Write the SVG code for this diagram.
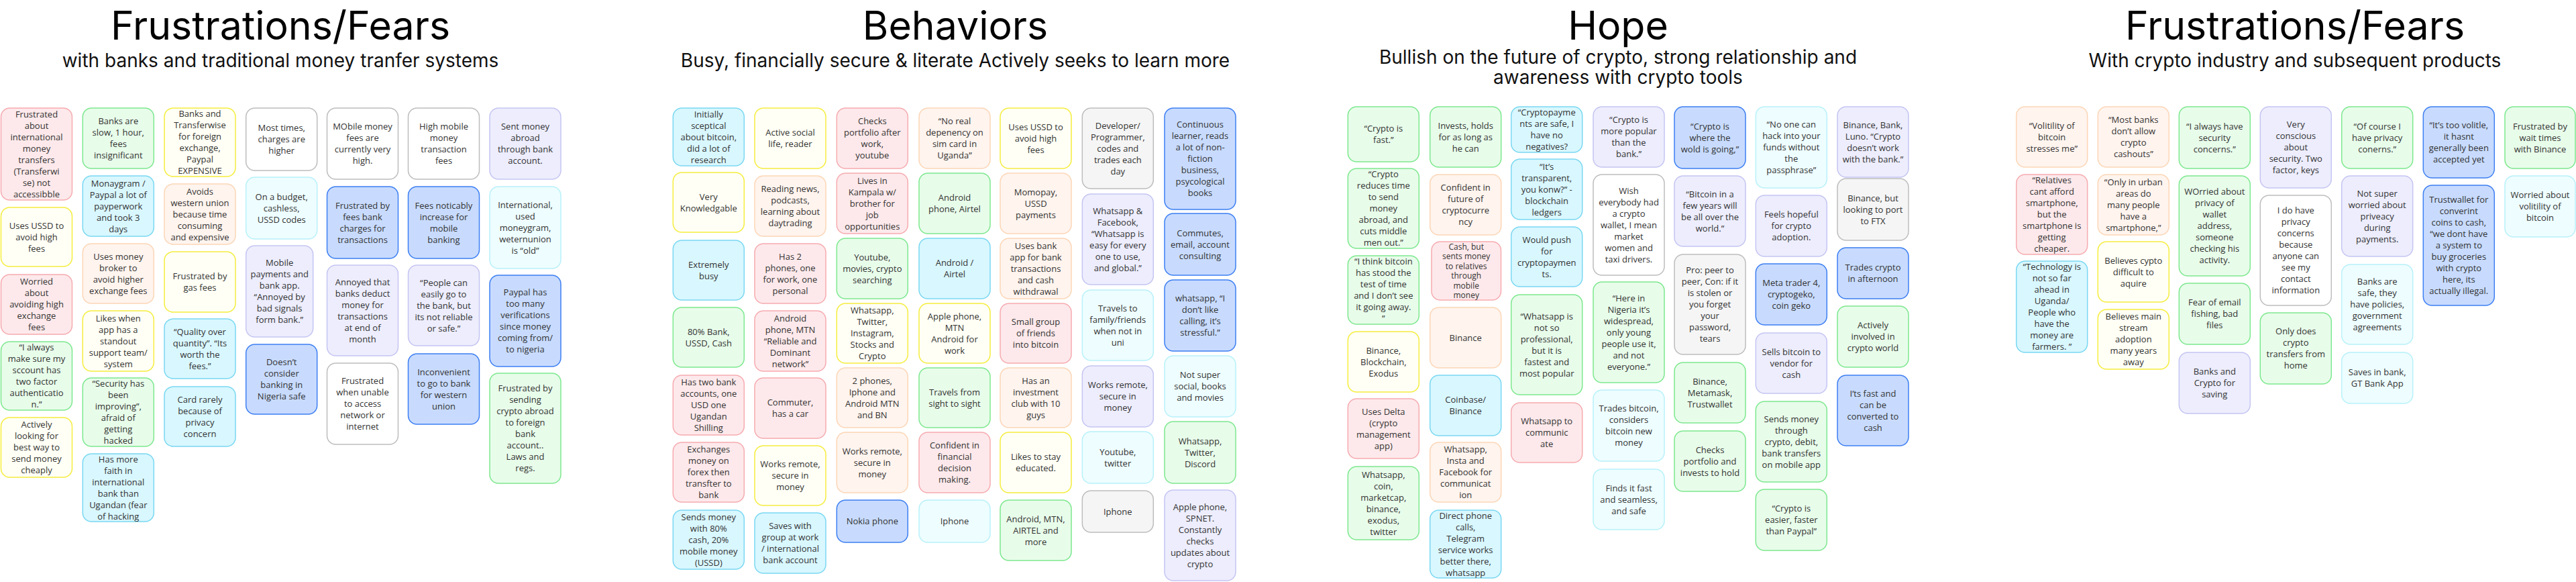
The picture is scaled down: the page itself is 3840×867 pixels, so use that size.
<svg xmlns="http://www.w3.org/2000/svg" width="3840" height="867" viewBox="0 0 3840 867">
<style>
.bg{fill:#fff}
rect{stroke-width:1.5}
.pk{fill:#fde9eb;stroke:#f6abb0}
.gr{fill:#e8fcea;stroke:#7de88f}
.ye{fill:#fffff5;stroke:#f5ed3f}
.cy{fill:#d9f7ff;stroke:#7ad8f2}
.lc{fill:#eefdff;stroke:#b8f1fa}
.pe{fill:#fff4ee;stroke:#fcd6b6}
.la{fill:#ededfd;stroke:#c5c5f3}
.wh{fill:#ffffff;stroke:#bdbdbd}
.gy{fill:#f5f5f5;stroke:#bdbdbd}
.bl{fill:#c8dbfe;stroke:#3d7ff2}
.t{font-family:"Open Sans","Noto Sans","DejaVu Sans",sans-serif;font-size:13px;fill:#333;text-anchor:middle}
.s{font-size:12px}
.h1{font-family:Inter,"Liberation Sans",sans-serif;font-size:59px;fill:#000;text-anchor:middle}
.h2{font-family:Inter,"Liberation Sans",sans-serif;font-size:28px;fill:#111;text-anchor:middle}
</style>
<rect class="bg" x="0" y="0" width="3840" height="867" style="stroke:none"/>
<g id="titles">
<text class="h1" x="418" y="59">Frustrations/Fears</text>
<text class="h2" x="418" y="100">with banks and traditional money tranfer systems</text>
<text class="h1" x="1424" y="59">Behaviors</text>
<text class="h2" x="1424" y="100">Busy, financially secure &amp; literate Actively seeks to learn more</text>
<text class="h1" x="2412" y="59">Hope</text>
<text class="h2" x="2412" y="95">Bullish on the future of crypto, strong relationship and</text>
<text class="h2" x="2412" y="125">awareness with crypto tools</text>
<text class="h1" x="3421" y="59">Frustrations/Fears</text>
<text class="h2" x="3421" y="100">With crypto industry and subsequent products</text>
</g>
<g id="connectors"></g>

<g id="section-banks">
<g id="s1c1n1" transform="translate(1.5 161)"><rect class="pk" rx="13" width="106" height="137"/><text class="t" y="13.6"><tspan x="53">Frustrated</tspan><tspan x="53" dy="17">about</tspan><tspan x="53" dy="17">international</tspan><tspan x="53" dy="17">money</tspan><tspan x="53" dy="17">transfers</tspan><tspan x="53" dy="17">(Transferwi</tspan><tspan x="53" dy="17">se) not</tspan><tspan x="53" dy="17">accessibble</tspan></text></g>
<g id="s1c1n2" transform="translate(1.5 309)"><rect class="ye" rx="13" width="106" height="88"/><text class="t" y="31.6"><tspan x="53">Uses USSD to</tspan><tspan x="53" dy="17">avoid high</tspan><tspan x="53" dy="17">fees</tspan></text></g>
<g id="s1c1n3" transform="translate(1.5 409)"><rect class="pk" rx="13" width="106" height="89"/><text class="t" y="15.1"><tspan x="53">Worried</tspan><tspan x="53" dy="17">about</tspan><tspan x="53" dy="17">avoiding high</tspan><tspan x="53" dy="17">exchange</tspan><tspan x="53" dy="17">fees</tspan></text></g>
<g id="s1c1n4" transform="translate(1.5 509)"><rect class="gr" rx="13" width="106" height="102"/><text class="t" y="13.1"><tspan x="53">“I always</tspan><tspan x="53" dy="17">make sure my</tspan><tspan x="53" dy="17">sccount has</tspan><tspan x="53" dy="17">two factor</tspan><tspan x="53" dy="17">authenticatio</tspan><tspan x="53" dy="17">n.”</tspan></text></g>
<g id="s1c1n5" transform="translate(1.5 622)"><rect class="ye" rx="13" width="106" height="89"/><text class="t" y="15.1"><tspan x="53">Actively</tspan><tspan x="53" dy="17">looking for</tspan><tspan x="53" dy="17">best way to</tspan><tspan x="53" dy="17">send money</tspan><tspan x="53" dy="17">cheaply</tspan></text></g>

<g id="s1c2n1" transform="translate(123.3 161)"><rect class="gr" rx="13" width="106" height="90"/><text class="t" y="24.1"><tspan x="53">Banks are</tspan><tspan x="53" dy="17">slow, 1 hour,</tspan><tspan x="53" dy="17">fees</tspan><tspan x="53" dy="17">insignificant</tspan></text></g>
<g id="s1c2n2" transform="translate(123.3 262)"><rect class="cy" rx="13" width="106" height="90"/><text class="t" y="15.6"><tspan x="53">Monaygram /</tspan><tspan x="53" dy="17">Paypal a lot of</tspan><tspan x="53" dy="17">payperwork</tspan><tspan x="53" dy="17">and took 3</tspan><tspan x="53" dy="17">days</tspan></text></g>
<g id="s1c2n3" transform="translate(123.3 363)"><rect class="pe" rx="13" width="106" height="89"/><text class="t" y="23.6"><tspan x="53">Uses money</tspan><tspan x="53" dy="17">broker to</tspan><tspan x="53" dy="17">avoid higher</tspan><tspan x="53" dy="17">exchange fees</tspan></text></g>
<g id="s1c2n4" transform="translate(123.3 463)"><rect class="ye" rx="13" width="106" height="90"/><text class="t" y="15.6"><tspan x="53">Likes when</tspan><tspan x="53" dy="17">app has a</tspan><tspan x="53" dy="17">standout</tspan><tspan x="53" dy="17">support team/</tspan><tspan x="53" dy="17">system</tspan></text></g>
<g id="s1c2n5" transform="translate(123.3 563)"><rect class="gr" rx="13" width="106" height="102"/><text class="t" y="13.1"><tspan x="53">“Security has</tspan><tspan x="53" dy="17">been</tspan><tspan x="53" dy="17">improving”,</tspan><tspan x="53" dy="17">afraid of</tspan><tspan x="53" dy="17">getting</tspan><tspan x="53" dy="17">hacked</tspan></text></g>
<g id="s1c2n6" transform="translate(123.3 676)"><rect class="cy" rx="13" width="106" height="101"/><text class="t" y="12.6"><tspan x="53">Has more</tspan><tspan x="53" dy="17">faith in</tspan><tspan x="53" dy="17">international</tspan><tspan x="53" dy="17">bank than</tspan><tspan x="53" dy="17">Ugandan (fear</tspan><tspan x="53" dy="17">of hacking</tspan></text></g>

<g id="s1c3n1" transform="translate(245 161)"><rect class="ye" rx="13" width="106" height="102"/><text class="t" y="13.1"><tspan x="53">Banks and</tspan><tspan x="53" dy="17">Transferwise</tspan><tspan x="53" dy="17">for foreign</tspan><tspan x="53" dy="17">exchange,</tspan><tspan x="53" dy="17">Paypal</tspan><tspan x="53" dy="17">EXPENSIVE</tspan></text></g>
<g id="s1c3n2" transform="translate(245 274)"><rect class="pe" rx="13" width="106" height="90"/><text class="t" y="15.6"><tspan x="53">Avoids</tspan><tspan x="53" dy="17">western union</tspan><tspan x="53" dy="17">because time</tspan><tspan x="53" dy="17">consuming</tspan><tspan x="53" dy="17">and expensive</tspan></text></g>
<g id="s1c3n3" transform="translate(245 375)"><rect class="ye" rx="13" width="106" height="90"/><text class="t" y="41.1"><tspan x="53">Frustrated by</tspan><tspan x="53" dy="17">gas fees</tspan></text></g>
<g id="s1c3n4" transform="translate(245 475)"><rect class="cy" rx="13" width="106" height="89"/><text class="t" y="23.6"><tspan x="53">“Quality over</tspan><tspan x="53" dy="17">quantity”. “Its</tspan><tspan x="53" dy="17">worth the</tspan><tspan x="53" dy="17">fees.”</tspan></text></g>
<g id="s1c3n5" transform="translate(245 576)"><rect class="cy" rx="13" width="106" height="89"/><text class="t" y="23.6"><tspan x="53">Card rarely</tspan><tspan x="53" dy="17">because of</tspan><tspan x="53" dy="17">privacy</tspan><tspan x="53" dy="17">concern</tspan></text></g>

<g id="s1c4n1" transform="translate(366.7 161)"><rect class="wh" rx="13" width="106" height="93"/><text class="t" y="34.1"><tspan x="53">Most times,</tspan><tspan x="53" dy="17">charges are</tspan><tspan x="53" dy="17">higher</tspan></text></g>
<g id="s1c4n2" transform="translate(366.7 264)"><rect class="lc" rx="13" width="106" height="92"/><text class="t" y="33.6"><tspan x="53">On a budget,</tspan><tspan x="53" dy="17">cashless,</tspan><tspan x="53" dy="17">USSD codes</tspan></text></g>
<g id="s1c4n3" transform="translate(366.7 366)"><rect class="la" rx="13" width="100" height="136"/><text class="t" y="30.1"><tspan x="50">Mobile</tspan><tspan x="50" dy="17">payments and</tspan><tspan x="50" dy="17">bank app.</tspan><tspan x="50" dy="17">“Annoyed by</tspan><tspan x="50" dy="17">bad signals</tspan><tspan x="50" dy="17">form bank.”</tspan></text></g>
<g id="s1c4n4" transform="translate(366.7 513)"><rect class="bl" rx="13" width="106" height="104"/><text class="t" y="31.1"><tspan x="53">Doesn’t</tspan><tspan x="53" dy="17">consider</tspan><tspan x="53" dy="17">banking in</tspan><tspan x="53" dy="17">Nigeria safe</tspan></text></g>

<g id="s1c5n1" transform="translate(487.5 161)"><rect class="wh" rx="13" width="106" height="106"/><text class="t" y="32.1"><tspan x="53">MObile money</tspan><tspan x="53" dy="17">fees are</tspan><tspan x="53" dy="17">currently very</tspan><tspan x="53" dy="17">high.</tspan></text></g>
<g id="s1c5n2" transform="translate(487.5 278)"><rect class="bl" rx="13" width="106" height="107"/><text class="t" y="32.6"><tspan x="53">Frustrated by</tspan><tspan x="53" dy="17">fees bank</tspan><tspan x="53" dy="17">charges for</tspan><tspan x="53" dy="17">transactions</tspan></text></g>
<g id="s1c5n3" transform="translate(487.5 395)"><rect class="la" rx="13" width="106" height="135"/><text class="t" y="29.6"><tspan x="53">Annoyed that</tspan><tspan x="53" dy="17">banks deduct</tspan><tspan x="53" dy="17">money for</tspan><tspan x="53" dy="17">transactions</tspan><tspan x="53" dy="17">at end of</tspan><tspan x="53" dy="17">month</tspan></text></g>
<g id="s1c5n4" transform="translate(487.5 541)"><rect class="wh" rx="13" width="106" height="121"/><text class="t" y="31.1"><tspan x="53">Frustrated</tspan><tspan x="53" dy="17">when unable</tspan><tspan x="53" dy="17">to access</tspan><tspan x="53" dy="17">network or</tspan><tspan x="53" dy="17">internet</tspan></text></g>

<g id="s1c6n1" transform="translate(608.5 161)"><rect class="wh" rx="13" width="106" height="106"/><text class="t" y="32.1"><tspan x="53">High mobile</tspan><tspan x="53" dy="17">money</tspan><tspan x="53" dy="17">transaction</tspan><tspan x="53" dy="17">fees</tspan></text></g>
<g id="s1c6n2" transform="translate(608.5 278)"><rect class="bl" rx="13" width="106" height="107"/><text class="t" y="32.6"><tspan x="53">Fees noticably</tspan><tspan x="53" dy="17">increase for</tspan><tspan x="53" dy="17">mobile</tspan><tspan x="53" dy="17">banking</tspan></text></g>
<g id="s1c6n3" transform="translate(608.5 395)"><rect class="la" rx="13" width="106" height="120"/><text class="t" y="30.6"><tspan x="53">“People can</tspan><tspan x="53" dy="17">easily go to</tspan><tspan x="53" dy="17">the bank, but</tspan><tspan x="53" dy="17">its not reliable</tspan><tspan x="53" dy="17">or safe.”</tspan></text></g>
<g id="s1c6n4" transform="translate(608.5 527)"><rect class="bl" rx="13" width="106" height="105"/><text class="t" y="31.6"><tspan x="53">Inconvenient</tspan><tspan x="53" dy="17">to go to bank</tspan><tspan x="53" dy="17">for western</tspan><tspan x="53" dy="17">union</tspan></text></g>

<g id="s1c7n1" transform="translate(730 161)"><rect class="la" rx="13" width="106" height="106"/><text class="t" y="32.1"><tspan x="53">Sent money</tspan><tspan x="53" dy="17">abroad</tspan><tspan x="53" dy="17">through bank</tspan><tspan x="53" dy="17">account.</tspan></text></g>
<g id="s1c7n2" transform="translate(730 278)"><rect class="lc" rx="13" width="106" height="122"/><text class="t" y="31.6"><tspan x="53">International,</tspan><tspan x="53" dy="17">used</tspan><tspan x="53" dy="17">moneygram,</tspan><tspan x="53" dy="17">weternunion</tspan><tspan x="53" dy="17">is “old”</tspan></text></g>
<g id="s1c7n3" transform="translate(730 410)"><rect class="bl" rx="13" width="106" height="136"/><text class="t" y="30.1"><tspan x="53">Paypal has</tspan><tspan x="53" dy="17">too many</tspan><tspan x="53" dy="17">verifications</tspan><tspan x="53" dy="17">since money</tspan><tspan x="53" dy="17">coming from/</tspan><tspan x="53" dy="17">to nigeria</tspan></text></g>
<g id="s1c7n4" transform="translate(730 556)"><rect class="gr" rx="13" width="106" height="164"/><text class="t" y="27.1"><tspan x="53">Frustrated by</tspan><tspan x="53" dy="17">sending</tspan><tspan x="53" dy="17">crypto abroad</tspan><tspan x="53" dy="17">to foreign</tspan><tspan x="53" dy="17">bank</tspan><tspan x="53" dy="17">account..</tspan><tspan x="53" dy="17">Laws and</tspan><tspan x="53" dy="17">regs.</tspan></text></g>
</g>

<g id="section-behaviors">
<g id="bc1n1" transform="translate(1003.3 161)"><rect class="cy" rx="13" width="106" height="86"/><text class="t" y="13.6"><tspan x="53">Initially</tspan><tspan x="53" dy="17">sceptical</tspan><tspan x="53" dy="17">about bitcoin,</tspan><tspan x="53" dy="17">did a lot of</tspan><tspan x="53" dy="17">research</tspan></text></g>
<g id="bc1n2" transform="translate(1003.3 257)"><rect class="ye" rx="13" width="106" height="89"/><text class="t" y="40.6"><tspan x="53">Very</tspan><tspan x="53" dy="17">Knowledgable</tspan></text></g>
<g id="bc1n3" transform="translate(1003.3 358)"><rect class="cy" rx="13" width="106" height="89"/><text class="t" y="40.6"><tspan x="53">Extremely</tspan><tspan x="53" dy="17">busy</tspan></text></g>
<g id="bc1n4" transform="translate(1003.3 458)"><rect class="gr" rx="13" width="106" height="89"/><text class="t" y="40.6"><tspan x="53">80% Bank,</tspan><tspan x="53" dy="17">USSD, Cash</tspan></text></g>
<g id="bc1n5" transform="translate(1003.3 559)"><rect class="pk" rx="13" width="106" height="89"/><text class="t" y="15.1"><tspan x="53">Has two bank</tspan><tspan x="53" dy="17">accounts, one</tspan><tspan x="53" dy="17">USD one</tspan><tspan x="53" dy="17">Ugandan</tspan><tspan x="53" dy="17">Shilling</tspan></text></g>
<g id="bc1n6" transform="translate(1003.3 659)"><rect class="pk" rx="13" width="106" height="89"/><text class="t" y="15.1"><tspan x="53">Exchanges</tspan><tspan x="53" dy="17">money on</tspan><tspan x="53" dy="17">forex then</tspan><tspan x="53" dy="17">transfter to</tspan><tspan x="53" dy="17">bank</tspan></text></g>
<g id="bc1n7" transform="translate(1003.3 760)"><rect class="cy" rx="13" width="106" height="88"/><text class="t" y="14.6"><tspan x="53">Sends money</tspan><tspan x="53" dy="17">with 80%</tspan><tspan x="53" dy="17">cash, 20%</tspan><tspan x="53" dy="17">mobile money</tspan><tspan x="53" dy="17">(USSD)</tspan></text></g>

<g id="bc2n1" transform="translate(1125 161)"><rect class="ye" rx="13" width="106" height="90"/><text class="t" y="41.1"><tspan x="53">Active social</tspan><tspan x="53" dy="17">life, reader</tspan></text></g>
<g id="bc2n2" transform="translate(1125 262)"><rect class="pe" rx="13" width="106" height="90"/><text class="t" y="24.1"><tspan x="53">Reading news,</tspan><tspan x="53" dy="17">podcasts,</tspan><tspan x="53" dy="17">learning about</tspan><tspan x="53" dy="17">daytrading</tspan></text></g>
<g id="bc2n3" transform="translate(1125 363)"><rect class="pk" rx="13" width="106" height="89"/><text class="t" y="23.6"><tspan x="53">Has 2</tspan><tspan x="53" dy="17">phones, one</tspan><tspan x="53" dy="17">for work, one</tspan><tspan x="53" dy="17">personal</tspan></text></g>
<g id="bc2n4" transform="translate(1125 463)"><rect class="pk" rx="13" width="106" height="90"/><text class="t" y="15.6"><tspan x="53">Android</tspan><tspan x="53" dy="17">phone, MTN</tspan><tspan x="53" dy="17">“Reliable and</tspan><tspan x="53" dy="17">Dominant</tspan><tspan x="53" dy="17">network”</tspan></text></g>
<g id="bc2n5" transform="translate(1125 563)"><rect class="pk" rx="13" width="106" height="90"/><text class="t" y="41.1"><tspan x="53">Commuter,</tspan><tspan x="53" dy="17">has a car</tspan></text></g>
<g id="bc2n6" transform="translate(1125 664)"><rect class="ye" rx="13" width="106" height="89"/><text class="t" y="32.1"><tspan x="53">Works remote,</tspan><tspan x="53" dy="17">secure in</tspan><tspan x="53" dy="17">money</tspan></text></g>
<g id="bc2n7" transform="translate(1125 764)"><rect class="cy" rx="13" width="106" height="90"/><text class="t" y="24.1"><tspan x="53">Saves with</tspan><tspan x="53" dy="17">group at work</tspan><tspan x="53" dy="17">/ international</tspan><tspan x="53" dy="17">bank account</tspan></text></g>

<g id="bc3n1" transform="translate(1247.3 161)"><rect class="pk" rx="13" width="106" height="90"/><text class="t" y="24.1"><tspan x="53">Checks</tspan><tspan x="53" dy="17">portfolio after</tspan><tspan x="53" dy="17">work,</tspan><tspan x="53" dy="17">youtube</tspan></text></g>
<g id="bc3n2" transform="translate(1247.3 258)"><rect class="pk" rx="13" width="106" height="90"/><text class="t" y="15.6"><tspan x="53">Lives in</tspan><tspan x="53" dy="17">Kampala w/</tspan><tspan x="53" dy="17">brother for</tspan><tspan x="53" dy="17">job</tspan><tspan x="53" dy="17">opportunities</tspan></text></g>
<g id="bc3n3" transform="translate(1247.3 355)"><rect class="gr" rx="13" width="106" height="90"/><text class="t" y="32.6"><tspan x="53">Youtube,</tspan><tspan x="53" dy="17">movies, crypto</tspan><tspan x="53" dy="17">searching</tspan></text></g>
<g id="bc3n4" transform="translate(1247.3 452)"><rect class="ye" rx="13" width="106" height="89"/><text class="t" y="15.1"><tspan x="53">Whatsapp,</tspan><tspan x="53" dy="17">Twitter,</tspan><tspan x="53" dy="17">Instagram,</tspan><tspan x="53" dy="17">Stocks and</tspan><tspan x="53" dy="17">Crypto</tspan></text></g>
<g id="bc3n5" transform="translate(1247.3 548)"><rect class="pe" rx="13" width="106" height="89"/><text class="t" y="23.6"><tspan x="53">2 phones,</tspan><tspan x="53" dy="17">Iphone and</tspan><tspan x="53" dy="17">Android MTN</tspan><tspan x="53" dy="17">and BN</tspan></text></g>
<g id="bc3n6" transform="translate(1247.3 644)"><rect class="pe" rx="13" width="106" height="90"/><text class="t" y="32.6"><tspan x="53">Works remote,</tspan><tspan x="53" dy="17">secure in</tspan><tspan x="53" dy="17">money</tspan></text></g>
<g id="bc3n7" transform="translate(1247.3 745)"><rect class="bl" rx="13" width="106" height="63"/><text class="t" y="36.1"><tspan x="53">Nokia phone</tspan></text></g>

<g id="bc4n1" transform="translate(1370 161)"><rect class="pe" rx="13" width="106" height="90"/><text class="t" y="24.1"><tspan x="53">“No real</tspan><tspan x="53" dy="17">depenency on</tspan><tspan x="53" dy="17">sim card in</tspan><tspan x="53" dy="17">Uganda”</tspan></text></g>
<g id="bc4n2" transform="translate(1370 258)"><rect class="gr" rx="13" width="106" height="90"/><text class="t" y="41.1"><tspan x="53">Android</tspan><tspan x="53" dy="17">phone, Airtel</tspan></text></g>
<g id="bc4n3" transform="translate(1370 355)"><rect class="cy" rx="13" width="106" height="90"/><text class="t" y="41.1"><tspan x="53">Android /</tspan><tspan x="53" dy="17">Airtel</tspan></text></g>
<g id="bc4n4" transform="translate(1370 452)"><rect class="ye" rx="13" width="106" height="89"/><text class="t" y="23.6"><tspan x="53">Apple phone,</tspan><tspan x="53" dy="17">MTN</tspan><tspan x="53" dy="17">Android for</tspan><tspan x="53" dy="17">work</tspan></text></g>
<g id="bc4n5" transform="translate(1370 548)"><rect class="gr" rx="13" width="106" height="89"/><text class="t" y="40.6"><tspan x="53">Travels from</tspan><tspan x="53" dy="17">sight to sight</tspan></text></g>
<g id="bc4n6" transform="translate(1370 644)"><rect class="pk" rx="13" width="106" height="90"/><text class="t" y="24.1"><tspan x="53">Confident in</tspan><tspan x="53" dy="17">financial</tspan><tspan x="53" dy="17">decision</tspan><tspan x="53" dy="17">making.</tspan></text></g>
<g id="bc4n7" transform="translate(1370 745)"><rect class="lc" rx="13" width="106" height="63"/><text class="t" y="36.1"><tspan x="53">Iphone</tspan></text></g>

<g id="bc5n1" transform="translate(1491 161)"><rect class="ye" rx="13" width="106" height="90"/><text class="t" y="32.6"><tspan x="53">Uses USSD to</tspan><tspan x="53" dy="17">avoid high</tspan><tspan x="53" dy="17">fees</tspan></text></g>
<g id="bc5n2" transform="translate(1491 258)"><rect class="pe" rx="13" width="106" height="90"/><text class="t" y="32.6"><tspan x="53">Momopay,</tspan><tspan x="53" dy="17">USSD</tspan><tspan x="53" dy="17">payments</tspan></text></g>
<g id="bc5n3" transform="translate(1491 355)"><rect class="pe" rx="13" width="106" height="90"/><text class="t" y="15.6"><tspan x="53">Uses bank</tspan><tspan x="53" dy="17">app for bank</tspan><tspan x="53" dy="17">transactions</tspan><tspan x="53" dy="17">and cash</tspan><tspan x="53" dy="17">withdrawal</tspan></text></g>
<g id="bc5n4" transform="translate(1491 452)"><rect class="pk" rx="13" width="106" height="89"/><text class="t" y="32.1"><tspan x="53">Small group</tspan><tspan x="53" dy="17">of friends</tspan><tspan x="53" dy="17">into bitcoin</tspan></text></g>
<g id="bc5n5" transform="translate(1491 548)"><rect class="pe" rx="13" width="106" height="89"/><text class="t" y="23.6"><tspan x="53">Has an</tspan><tspan x="53" dy="17">investment</tspan><tspan x="53" dy="17">club with 10</tspan><tspan x="53" dy="17">guys</tspan></text></g>
<g id="bc5n6" transform="translate(1491 644)"><rect class="ye" rx="13" width="106" height="90"/><text class="t" y="41.1"><tspan x="53">Likes to stay</tspan><tspan x="53" dy="17">educated.</tspan></text></g>
<g id="bc5n7" transform="translate(1491 745)"><rect class="gr" rx="13" width="106" height="90"/><text class="t" y="32.6"><tspan x="53">Android, MTN,</tspan><tspan x="53" dy="17">AIRTEL and</tspan><tspan x="53" dy="17">more</tspan></text></g>

<g id="bc6n1" transform="translate(1613.3 161)"><rect class="gy" rx="13" width="106" height="120"/><text class="t" y="30.6"><tspan x="53">Developer/</tspan><tspan x="53" dy="17">Programmer,</tspan><tspan x="53" dy="17">codes and</tspan><tspan x="53" dy="17">trades each</tspan><tspan x="53" dy="17">day</tspan></text></g>
<g id="bc6n2" transform="translate(1613.3 289)"><rect class="la" rx="13" width="106" height="135"/><text class="t" y="29.6"><tspan x="53">Whatsapp &amp;</tspan><tspan x="53" dy="17">Facebook,</tspan><tspan x="53" dy="17">“Whatsapp is</tspan><tspan x="53" dy="17">easy for every</tspan><tspan x="53" dy="17">one to use,</tspan><tspan x="53" dy="17">and global.”</tspan></text></g>
<g id="bc6n3" transform="translate(1613.3 432)"><rect class="lc" rx="13" width="106" height="105"/><text class="t" y="31.6"><tspan x="53">Travels to</tspan><tspan x="53" dy="17">family/friends</tspan><tspan x="53" dy="17">when not in</tspan><tspan x="53" dy="17">uni</tspan></text></g>
<g id="bc6n4" transform="translate(1613.3 545)"><rect class="la" rx="13" width="106" height="91"/><text class="t" y="33.1"><tspan x="53">Works remote,</tspan><tspan x="53" dy="17">secure in</tspan><tspan x="53" dy="17">money</tspan></text></g>
<g id="bc6n5" transform="translate(1613.3 643)"><rect class="lc" rx="13" width="106" height="77"/><text class="t" y="34.6"><tspan x="53">Youtube,</tspan><tspan x="53" dy="17">twitter</tspan></text></g>
<g id="bc6n6" transform="translate(1613.3 731)"><rect class="gy" rx="13" width="106" height="62"/><text class="t" y="35.6"><tspan x="53">Iphone</tspan></text></g>

<g id="bc7n1" transform="translate(1736 161)"><rect class="bl" rx="13" width="106" height="151"/><text class="t" y="29.1"><tspan x="53">Continuous</tspan><tspan x="53" dy="17">learner, reads</tspan><tspan x="53" dy="17">a lot of non-</tspan><tspan x="53" dy="17">fiction</tspan><tspan x="53" dy="17">business,</tspan><tspan x="53" dy="17">psycological</tspan><tspan x="53" dy="17">books</tspan></text></g>
<g id="bc7n2" transform="translate(1736 318)"><rect class="bl" rx="13" width="106" height="92"/><text class="t" y="33.6"><tspan x="53">Commutes,</tspan><tspan x="53" dy="17">email, account</tspan><tspan x="53" dy="17">consulting</tspan></text></g>
<g id="bc7n3" transform="translate(1736 417)"><rect class="bl" rx="13" width="106" height="106"/><text class="t" y="32.1"><tspan x="53">whatsapp, “I</tspan><tspan x="53" dy="17">don’t like</tspan><tspan x="53" dy="17">calling, it’s</tspan><tspan x="53" dy="17">stressful.”</tspan></text></g>
<g id="bc7n4" transform="translate(1736 530)"><rect class="lc" rx="13" width="106" height="91"/><text class="t" y="33.1"><tspan x="53">Not super</tspan><tspan x="53" dy="17">social, books</tspan><tspan x="53" dy="17">and movies</tspan></text></g>
<g id="bc7n5" transform="translate(1736 628)"><rect class="gr" rx="13" width="106" height="92"/><text class="t" y="33.6"><tspan x="53">Whatsapp,</tspan><tspan x="53" dy="17">Twitter,</tspan><tspan x="53" dy="17">Discord</tspan></text></g>
<g id="bc7n6" transform="translate(1736 730)"><rect class="la" rx="13" width="106" height="135"/><text class="t" y="29.6"><tspan x="53">Apple phone,</tspan><tspan x="53" dy="17">SPNET.</tspan><tspan x="53" dy="17">Constantly</tspan><tspan x="53" dy="17">checks</tspan><tspan x="53" dy="17">updates about</tspan><tspan x="53" dy="17">crypto</tspan></text></g>
</g>

<g id="section-hope">
<g id="hc1n1" transform="translate(2009.3 159)"><rect class="gr" rx="13" width="106" height="82"/><text class="t" y="37.1"><tspan x="53">“Crypto is</tspan><tspan x="53" dy="17">fast.”</tspan></text></g>
<g id="hc1n2" transform="translate(2009.3 251)"><rect class="gr" rx="13" width="106" height="119"/><text class="t" y="13.1"><tspan x="53">“Crypto</tspan><tspan x="53" dy="17">reduces time</tspan><tspan x="53" dy="17">to send</tspan><tspan x="53" dy="17">money</tspan><tspan x="53" dy="17">abroad, and</tspan><tspan x="53" dy="17">cuts middle</tspan><tspan x="53" dy="17">men out.”</tspan></text></g>
<g id="hc1n3" transform="translate(2009.3 381)"><rect class="gr" rx="13" width="106" height="102"/><text class="t" y="13.1"><tspan x="53">“I think bitcoin</tspan><tspan x="53" dy="17">has stood the</tspan><tspan x="53" dy="17">test of time</tspan><tspan x="53" dy="17">and I don’t see</tspan><tspan x="53" dy="17">it going away.</tspan><tspan x="53" dy="17">”</tspan></text></g>
<g id="hc1n4" transform="translate(2009.3 494)"><rect class="ye" rx="13" width="106" height="90"/><text class="t" y="32.6"><tspan x="53">Binance,</tspan><tspan x="53" dy="17">Blockchain,</tspan><tspan x="53" dy="17">Exodus</tspan></text></g>
<g id="hc1n5" transform="translate(2009.3 594)"><rect class="pk" rx="13" width="106" height="89"/><text class="t" y="23.6"><tspan x="53">Uses Delta</tspan><tspan x="53" dy="17">(crypto</tspan><tspan x="53" dy="17">management</tspan><tspan x="53" dy="17">app)</tspan></text></g>
<g id="hc1n6" transform="translate(2009.3 695)"><rect class="gr" rx="13" width="106" height="109"/><text class="t" y="16.6"><tspan x="53">Whatsapp,</tspan><tspan x="53" dy="17">coin,</tspan><tspan x="53" dy="17">marketcap,</tspan><tspan x="53" dy="17">binance,</tspan><tspan x="53" dy="17">exodus,</tspan><tspan x="53" dy="17">twitter</tspan></text></g>

<g id="hc2n1" transform="translate(2131.7 159)"><rect class="gr" rx="13" width="106" height="90"/><text class="t" y="32.6"><tspan x="53">Invests, holds</tspan><tspan x="53" dy="17">for as long as</tspan><tspan x="53" dy="17">he can</tspan></text></g>
<g id="hc2n2" transform="translate(2131.7 260)"><rect class="pe" rx="13" width="106" height="90"/><text class="t" y="24.1"><tspan x="53">Confident in</tspan><tspan x="53" dy="17">future of</tspan><tspan x="53" dy="17">cryptocurre</tspan><tspan x="53" dy="17">ncy</tspan></text></g>
<g id="hc2n3" transform="translate(2134 360)"><rect class="pk" rx="13" width="103.5" height="87"/><text class="t s" y="11.5"><tspan x="51.7">Cash, but</tspan><tspan x="51.7" dy="14.5">sents money</tspan><tspan x="51.7" dy="14.5">to relatives</tspan><tspan x="51.7" dy="14.5">through</tspan><tspan x="51.7" dy="14.5">mobile</tspan><tspan x="51.7" dy="14.5">money</tspan></text></g>
<g id="hc2n4" transform="translate(2131.7 458)"><rect class="pe" rx="13" width="106" height="90"/><text class="t" y="49.6"><tspan x="53">Binance</tspan></text></g>
<g id="hc2n5" transform="translate(2131.7 559)"><rect class="cy" rx="13" width="106" height="90"/><text class="t" y="41.1"><tspan x="53">Coinbase/</tspan><tspan x="53" dy="17">Binance</tspan></text></g>
<g id="hc2n6" transform="translate(2131.7 659)"><rect class="pe" rx="13" width="106" height="89"/><text class="t" y="15.1"><tspan x="53">Whatsapp,</tspan><tspan x="53" dy="17">Insta and</tspan><tspan x="53" dy="17">Facebook for</tspan><tspan x="53" dy="17">communicat</tspan><tspan x="53" dy="17">ion</tspan></text></g>
<g id="hc2n7" transform="translate(2131.7 760)"><rect class="cy" rx="13" width="106" height="101"/><text class="t" y="12.6"><tspan x="53">Direct phone</tspan><tspan x="53" dy="17">calls,</tspan><tspan x="53" dy="17">Telegram</tspan><tspan x="53" dy="17">service works</tspan><tspan x="53" dy="17">better there,</tspan><tspan x="53" dy="17">whatsapp</tspan></text></g>

<g id="hc3n1" transform="translate(2252.7 159)"><rect class="cy" rx="13" width="106" height="68"/><text class="t" y="13.1"><tspan x="53">“Cryptopayme</tspan><tspan x="53" dy="17">nts are safe, I</tspan><tspan x="53" dy="17">have no</tspan><tspan x="53" dy="17">negatives?</tspan></text></g>
<g id="hc3n2" transform="translate(2252.7 237)"><rect class="cy" rx="13" width="106" height="90"/><text class="t" y="15.6"><tspan x="53">“It’s</tspan><tspan x="53" dy="17">transparent,</tspan><tspan x="53" dy="17">you konw?” -</tspan><tspan x="53" dy="17">blockchain</tspan><tspan x="53" dy="17">ledgers</tspan></text></g>
<g id="hc3n3" transform="translate(2252.7 338)"><rect class="cy" rx="13" width="106" height="89"/><text class="t" y="23.6"><tspan x="53">Would push</tspan><tspan x="53" dy="17">for</tspan><tspan x="53" dy="17">cryptopaymen</tspan><tspan x="53" dy="17">ts.</tspan></text></g>
<g id="hc3n4" transform="translate(2252.7 439)"><rect class="gr" rx="13" width="106" height="149"/><text class="t" y="36.6"><tspan x="53">“Whatsapp is</tspan><tspan x="53" dy="17">not so</tspan><tspan x="53" dy="17">professional,</tspan><tspan x="53" dy="17">but it is</tspan><tspan x="53" dy="17">fastest and</tspan><tspan x="53" dy="17">most popular</tspan></text></g>
<g id="hc3n5" transform="translate(2252.7 600)"><rect class="pk" rx="13" width="106" height="89"/><text class="t" y="32.1"><tspan x="53">Whatsapp to</tspan><tspan x="53" dy="17">communic</tspan><tspan x="53" dy="17">ate</tspan></text></g>

<g id="hc4n1" transform="translate(2375 159)"><rect class="la" rx="13" width="106" height="90"/><text class="t" y="24.1"><tspan x="53">“Crypto is</tspan><tspan x="53" dy="17">more popular</tspan><tspan x="53" dy="17">than the</tspan><tspan x="53" dy="17">bank.”</tspan></text></g>
<g id="hc4n2" transform="translate(2375 260)"><rect class="wh" rx="13" width="106" height="150"/><text class="t" y="28.6"><tspan x="53">Wish</tspan><tspan x="53" dy="17">everybody had</tspan><tspan x="53" dy="17">a crypto</tspan><tspan x="53" dy="17">wallet, I mean</tspan><tspan x="53" dy="17">market</tspan><tspan x="53" dy="17">women and</tspan><tspan x="53" dy="17">taxi drivers.</tspan></text></g>
<g id="hc4n3" transform="translate(2375 420)"><rect class="gr" rx="13" width="106" height="150"/><text class="t" y="28.6"><tspan x="53">“Here in</tspan><tspan x="53" dy="17">Nigeria it’s</tspan><tspan x="53" dy="17">widespread,</tspan><tspan x="53" dy="17">only young</tspan><tspan x="53" dy="17">people use it,</tspan><tspan x="53" dy="17">and not</tspan><tspan x="53" dy="17">everyone.”</tspan></text></g>
<g id="hc4n4" transform="translate(2375 581)"><rect class="lc" rx="13" width="106" height="106"/><text class="t" y="32.1"><tspan x="53">Trades bitcoin,</tspan><tspan x="53" dy="17">considers</tspan><tspan x="53" dy="17">bitcoin new</tspan><tspan x="53" dy="17">money</tspan></text></g>
<g id="hc4n5" transform="translate(2375 699)"><rect class="lc" rx="13" width="106" height="90"/><text class="t" y="32.6"><tspan x="53">Finds it fast</tspan><tspan x="53" dy="17">and seamless,</tspan><tspan x="53" dy="17">and safe</tspan></text></g>

<g id="hc5n1" transform="translate(2496 159)"><rect class="bl" rx="13" width="106" height="92"/><text class="t" y="33.6"><tspan x="53">“Crypto is</tspan><tspan x="53" dy="17">where the</tspan><tspan x="53" dy="17">wold is going,”</tspan></text></g>
<g id="hc5n2" transform="translate(2496 262)"><rect class="la" rx="13" width="106" height="105"/><text class="t" y="31.6"><tspan x="53">“Bitcoin in a</tspan><tspan x="53" dy="17">few years will</tspan><tspan x="53" dy="17">be all over the</tspan><tspan x="53" dy="17">world.”</tspan></text></g>
<g id="hc5n3" transform="translate(2496 379)"><rect class="gy" rx="13" width="106" height="149"/><text class="t" y="28.1"><tspan x="53">Pro: peer to</tspan><tspan x="53" dy="17">peer, Con: if it</tspan><tspan x="53" dy="17">is stolen or</tspan><tspan x="53" dy="17">you forget</tspan><tspan x="53" dy="17">your</tspan><tspan x="53" dy="17">password,</tspan><tspan x="53" dy="17">tears</tspan></text></g>
<g id="hc5n4" transform="translate(2496 540)"><rect class="gr" rx="13" width="106" height="90"/><text class="t" y="32.6"><tspan x="53">Binance,</tspan><tspan x="53" dy="17">Metamask,</tspan><tspan x="53" dy="17">Trustwallet</tspan></text></g>
<g id="hc5n5" transform="translate(2496 642)"><rect class="gr" rx="13" width="106" height="90"/><text class="t" y="32.6"><tspan x="53">Checks</tspan><tspan x="53" dy="17">portfolio and</tspan><tspan x="53" dy="17">invests to hold</tspan></text></g>

<g id="hc6n1" transform="translate(2617.3 159)"><rect class="lc" rx="13" width="106" height="121"/><text class="t" y="31.1"><tspan x="53">“No one can</tspan><tspan x="53" dy="17">hack into your</tspan><tspan x="53" dy="17">funds without</tspan><tspan x="53" dy="17">the</tspan><tspan x="53" dy="17">passphrase”</tspan></text></g>
<g id="hc6n2" transform="translate(2617.3 291)"><rect class="la" rx="13" width="106" height="91"/><text class="t" y="33.1"><tspan x="53">Feels hopeful</tspan><tspan x="53" dy="17">for crypto</tspan><tspan x="53" dy="17">adoption.</tspan></text></g>
<g id="hc6n3" transform="translate(2617.3 393)"><rect class="bl" rx="13" width="106" height="91"/><text class="t" y="33.1"><tspan x="53">Meta trader 4,</tspan><tspan x="53" dy="17">cryptogeko,</tspan><tspan x="53" dy="17">coin geko</tspan></text></g>
<g id="hc6n4" transform="translate(2617.3 496)"><rect class="la" rx="13" width="106" height="90"/><text class="t" y="32.6"><tspan x="53">Sells bitcoin to</tspan><tspan x="53" dy="17">vendor for</tspan><tspan x="53" dy="17">cash</tspan></text></g>
<g id="hc6n5" transform="translate(2617.3 598)"><rect class="gr" rx="13" width="106" height="120"/><text class="t" y="30.6"><tspan x="53">Sends money</tspan><tspan x="53" dy="17">through</tspan><tspan x="53" dy="17">crypto, debit,</tspan><tspan x="53" dy="17">bank transfers</tspan><tspan x="53" dy="17">on mobile app</tspan></text></g>
<g id="hc6n6" transform="translate(2617.3 729)"><rect class="gr" rx="13" width="106" height="91"/><text class="t" y="33.1"><tspan x="53">“Crypto is</tspan><tspan x="53" dy="17">easier, faster</tspan><tspan x="53" dy="17">than Paypal”</tspan></text></g>

<g id="hc7n1" transform="translate(2739 159)"><rect class="la" rx="13" width="106" height="105"/><text class="t" y="31.6"><tspan x="53">Binance, Bank,</tspan><tspan x="53" dy="17">Luno. “Crypto</tspan><tspan x="53" dy="17">doesn’t work</tspan><tspan x="53" dy="17">with the bank.”</tspan></text></g>
<g id="hc7n2" transform="translate(2739 266)"><rect class="gy" rx="13" width="106" height="92"/><text class="t" y="33.6"><tspan x="53">Binance, but</tspan><tspan x="53" dy="17">looking to port</tspan><tspan x="53" dy="17">to FTX</tspan></text></g>
<g id="hc7n3" transform="translate(2739 369)"><rect class="bl" rx="13" width="106" height="76"/><text class="t" y="34.1"><tspan x="53">Trades crypto</tspan><tspan x="53" dy="17">in afternoon</tspan></text></g>
<g id="hc7n4" transform="translate(2739 456)"><rect class="gr" rx="13" width="106" height="91"/><text class="t" y="33.1"><tspan x="53">Actively</tspan><tspan x="53" dy="17">involved in</tspan><tspan x="53" dy="17">crypto world</tspan></text></g>
<g id="hc7n5" transform="translate(2739 559)"><rect class="bl" rx="13" width="106" height="105"/><text class="t" y="31.6"><tspan x="53">I’ts fast and</tspan><tspan x="53" dy="17">can be</tspan><tspan x="53" dy="17">converted to</tspan><tspan x="53" dy="17">cash</tspan></text></g>
</g>

<g id="section-crypto">
<g id="fc1n1" transform="translate(3005.7 159)"><rect class="pe" rx="13" width="106" height="90"/><text class="t" y="32.6"><tspan x="53">“Volitility of</tspan><tspan x="53" dy="17">bitcoin</tspan><tspan x="53" dy="17">stresses me”</tspan></text></g>
<g id="fc1n2" transform="translate(3005.7 260)"><rect class="pk" rx="13" width="106" height="119"/><text class="t" y="13.1"><tspan x="53">“Relatives</tspan><tspan x="53" dy="17">cant afford</tspan><tspan x="53" dy="17">smartphone,</tspan><tspan x="53" dy="17">but the</tspan><tspan x="53" dy="17">smartphone is</tspan><tspan x="53" dy="17">getting</tspan><tspan x="53" dy="17">cheaper.</tspan></text></g>
<g id="fc1n3" transform="translate(3005.7 389)"><rect class="cy" rx="13" width="106" height="136"/><text class="t" y="13.1"><tspan x="53">“Technology is</tspan><tspan x="53" dy="17">not so far</tspan><tspan x="53" dy="17">ahead in</tspan><tspan x="53" dy="17">Uganda/</tspan><tspan x="53" dy="17">People who</tspan><tspan x="53" dy="17">have the</tspan><tspan x="53" dy="17">money are</tspan><tspan x="53" dy="17">farmers. ”</tspan></text></g>

<g id="fc2n1" transform="translate(3127.3 159)"><rect class="pe" rx="13" width="106" height="90"/><text class="t" y="24.1"><tspan x="53">“Most banks</tspan><tspan x="53" dy="17">don’t allow</tspan><tspan x="53" dy="17">crypto</tspan><tspan x="53" dy="17">cashouts”</tspan></text></g>
<g id="fc2n2" transform="translate(3127.3 260)"><rect class="pe" rx="13" width="106" height="90"/><text class="t" y="15.6"><tspan x="53">“Only in urban</tspan><tspan x="53" dy="17">areas do</tspan><tspan x="53" dy="17">many people</tspan><tspan x="53" dy="17">have a</tspan><tspan x="53" dy="17">smartphone,”</tspan></text></g>
<g id="fc2n3" transform="translate(3127.3 360)"><rect class="ye" rx="13" width="106" height="90"/><text class="t" y="32.6"><tspan x="53">Believes cypto</tspan><tspan x="53" dy="17">difficult to</tspan><tspan x="53" dy="17">aquire</tspan></text></g>
<g id="fc2n4" transform="translate(3127.3 461)"><rect class="ye" rx="13" width="106" height="89"/><text class="t" y="15.1"><tspan x="53">Believes main</tspan><tspan x="53" dy="17">stream</tspan><tspan x="53" dy="17">adoption</tspan><tspan x="53" dy="17">many years</tspan><tspan x="53" dy="17">away</tspan></text></g>

<g id="fc3n1" transform="translate(3248.3 159)"><rect class="gr" rx="13" width="106" height="92"/><text class="t" y="33.6"><tspan x="53">“I always have</tspan><tspan x="53" dy="17">security</tspan><tspan x="53" dy="17">concerns.”</tspan></text></g>
<g id="fc3n2" transform="translate(3248.3 262)"><rect class="gr" rx="13" width="106" height="149"/><text class="t" y="28.1"><tspan x="53">WOrried about</tspan><tspan x="53" dy="17">privacy of</tspan><tspan x="53" dy="17">wallet</tspan><tspan x="53" dy="17">address,</tspan><tspan x="53" dy="17">someone</tspan><tspan x="53" dy="17">checking his</tspan><tspan x="53" dy="17">activity.</tspan></text></g>
<g id="fc3n3" transform="translate(3248.3 422)"><rect class="gr" rx="13" width="106" height="91"/><text class="t" y="33.1"><tspan x="53">Fear of email</tspan><tspan x="53" dy="17">fishing, bad</tspan><tspan x="53" dy="17">files</tspan></text></g>
<g id="fc3n4" transform="translate(3248.3 525)"><rect class="la" rx="13" width="106" height="91"/><text class="t" y="33.1"><tspan x="53">Banks and</tspan><tspan x="53" dy="17">Crypto for</tspan><tspan x="53" dy="17">saving</tspan></text></g>

<g id="fc4n1" transform="translate(3369.3 159)"><rect class="la" rx="13" width="106" height="121"/><text class="t" y="31.1"><tspan x="53">Very</tspan><tspan x="53" dy="17">conscious</tspan><tspan x="53" dy="17">about</tspan><tspan x="53" dy="17">security. Two</tspan><tspan x="53" dy="17">factor, keys</tspan></text></g>
<g id="fc4n2" transform="translate(3369.3 291)"><rect class="wh" rx="13" width="106" height="164"/><text class="t" y="27.1"><tspan x="53">I do have</tspan><tspan x="53" dy="17">privacy</tspan><tspan x="53" dy="17">concerns</tspan><tspan x="53" dy="17">because</tspan><tspan x="53" dy="17">anyone can</tspan><tspan x="53" dy="17">see my</tspan><tspan x="53" dy="17">contact</tspan><tspan x="53" dy="17">information</tspan></text></g>
<g id="fc4n3" transform="translate(3369.3 466)"><rect class="gr" rx="13" width="106" height="106"/><text class="t" y="32.1"><tspan x="53">Only does</tspan><tspan x="53" dy="17">crypto</tspan><tspan x="53" dy="17">transfers from</tspan><tspan x="53" dy="17">home</tspan></text></g>

<g id="fc5n1" transform="translate(3490.7 159)"><rect class="gr" rx="13" width="106" height="92"/><text class="t" y="33.6"><tspan x="53">“Of course I</tspan><tspan x="53" dy="17">have privacy</tspan><tspan x="53" dy="17">conerns.”</tspan></text></g>
<g id="fc5n2" transform="translate(3490.7 262)"><rect class="la" rx="13" width="106" height="120"/><text class="t" y="30.6"><tspan x="53">Not super</tspan><tspan x="53" dy="17">worried about</tspan><tspan x="53" dy="17">priveacy</tspan><tspan x="53" dy="17">during</tspan><tspan x="53" dy="17">payments.</tspan></text></g>
<g id="fc5n3" transform="translate(3490.7 394)"><rect class="lc" rx="13" width="106" height="119"/><text class="t" y="30.1"><tspan x="53">Banks are</tspan><tspan x="53" dy="17">safe, they</tspan><tspan x="53" dy="17">have policies,</tspan><tspan x="53" dy="17">government</tspan><tspan x="53" dy="17">agreements</tspan></text></g>
<g id="fc5n4" transform="translate(3490.7 525)"><rect class="lc" rx="13" width="106" height="76"/><text class="t" y="34.1"><tspan x="53">Saves in bank,</tspan><tspan x="53" dy="17">GT Bank App</tspan></text></g>

<g id="fc6n1" transform="translate(3612.3 159)"><rect class="bl" rx="13" width="106" height="106"/><text class="t" y="32.1"><tspan x="53">“It’s too volitle,</tspan><tspan x="53" dy="17">it hasnt</tspan><tspan x="53" dy="17">generally been</tspan><tspan x="53" dy="17">accepted yet</tspan></text></g>
<g id="fc6n2" transform="translate(3612.3 276)"><rect class="bl" rx="13" width="106" height="179"/><text class="t" y="26.1"><tspan x="53">Trustwallet for</tspan><tspan x="53" dy="17">converint</tspan><tspan x="53" dy="17">coins to cash,</tspan><tspan x="53" dy="17">“we dont have</tspan><tspan x="53" dy="17">a system to</tspan><tspan x="53" dy="17">buy groceries</tspan><tspan x="53" dy="17">with crypto</tspan><tspan x="53" dy="17">here, its</tspan><tspan x="53" dy="17">actually illegal.</tspan></text></g>

<g id="fc7n1" transform="translate(3734 159)"><rect class="gr" rx="13" width="105" height="92"/><text class="t" y="33.6"><tspan x="52.5">Frustrated by</tspan><tspan x="52.5" dy="17">wait times</tspan><tspan x="52.5" dy="17">with Binance</tspan></text></g>
<g id="fc7n2" transform="translate(3734 262)"><rect class="lc" rx="13" width="105" height="91"/><text class="t" y="33.1"><tspan x="52.5">Worried about</tspan><tspan x="52.5" dy="17">volitility of</tspan><tspan x="52.5" dy="17">bitcoin</tspan></text></g>
</g>
</svg>
